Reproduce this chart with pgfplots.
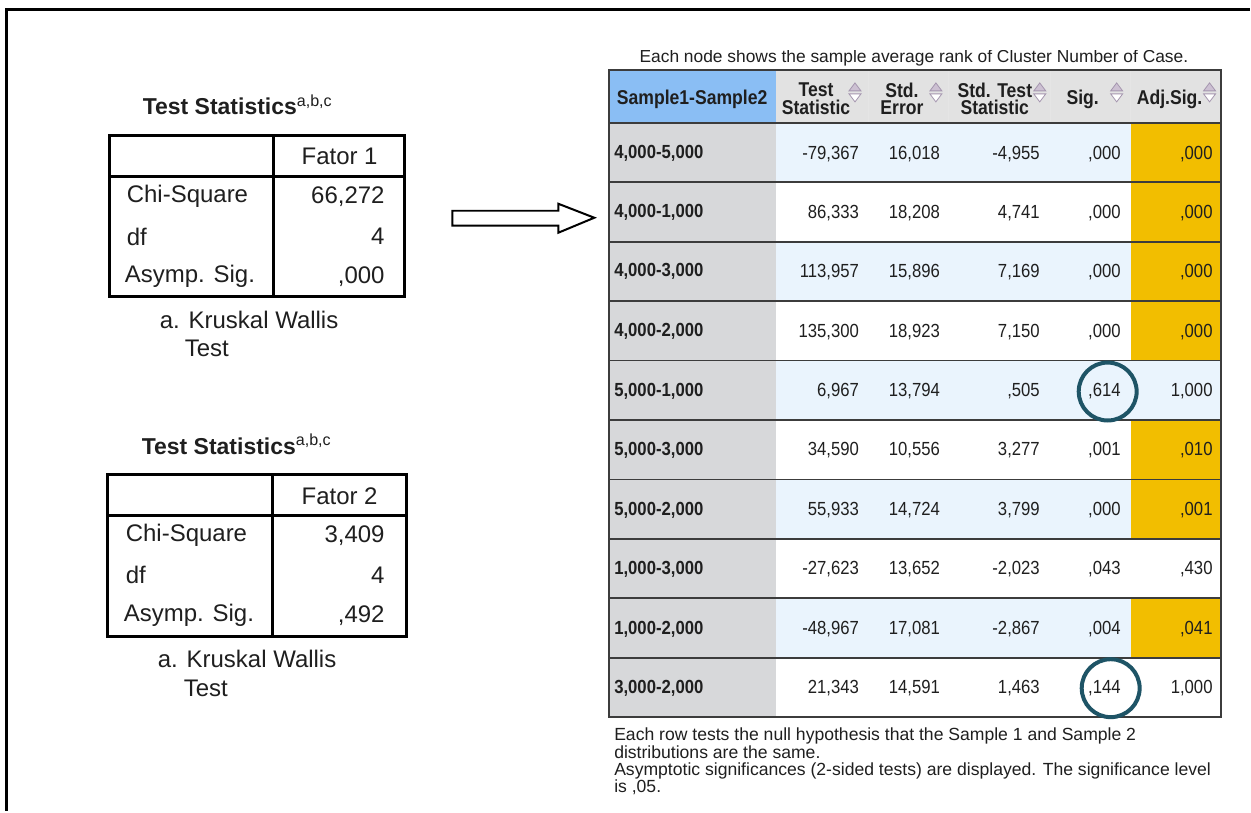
\documentclass[border=0pt]{standalone}
\usepackage{fontspec}
\setmainfont{Liberation Sans}
\newfontfamily\narrowfont[FakeStretch=0.88]{Liberation Sans}
\usepackage{pgfplots}
\pgfplotsset{compat=1.18}
\tikzset{every node/.append style={inner sep=0pt, outer sep=0pt, text=black!88}}

\definecolor{labgray}{RGB}{215,216,218}
\definecolor{headgray}{RGB}{226,226,226}
\definecolor{headblue}{RGB}{138,190,244}
\definecolor{rowblue}{RGB}{234,244,253}
\definecolor{adjyellow}{RGB}{242,190,0}
\definecolor{rule}{RGB}{60,60,60}
\definecolor{ring}{RGB}{30,84,102}
\definecolor{iconfill}{RGB}{204,192,210}
\definecolor{iconline}{RGB}{165,150,175}

% one row of the pairwise table: y centre, label, five values
\newcommand{\pairrow}[7]{%
  \node[anchor=west] at (axis cs:615,#1) {\fontsize{9.5}{11}\narrowfont\bfseries #2};
  \node[anchor=east] at (axis cs:860,#1) {\fontsize{9.5}{11}\narrowfont #3};
  \node[anchor=east] at (axis cs:941,#1) {\fontsize{9.5}{11}\narrowfont #4};
  \node[anchor=east] at (axis cs:1041,#1) {\fontsize{9.5}{11}\narrowfont #5};
  \node[anchor=east] at (axis cs:1122,#1) {\fontsize{9.5}{11}\narrowfont #6};
  \node[anchor=east] at (axis cs:1214,#1) {\fontsize{9.5}{11}\narrowfont #7};
}
% sort icon at x
\newcommand{\sorticon}[1]{%
  \filldraw[fill=iconfill, draw=iconline, line width=0.4pt]
    (axis cs:#1-6,91) -- (axis cs:#1+6,91) -- (axis cs:#1,83) -- cycle;
  \filldraw[fill=white, draw=iconline, line width=0.4pt]
    (axis cs:#1-6,94) -- (axis cs:#1+6,94) -- (axis cs:#1,102) -- cycle;
}

\begin{document}
\begin{tikzpicture}
\begin{axis}[
    width=625.5pt, height=406pt, scale only axis,
    xmin=0, xmax=1251, ymin=0, ymax=812,
    y dir=reverse, hide axis, clip=false,
]
% page and frame
\fill[white] (axis cs:0,0) rectangle (axis cs:1251,812);
\draw[black, line width=1.5pt] (axis cs:1251,9.5) -- (axis cs:7,9.5) -- (axis cs:7,812);

% ---------- left table 1 ----------
\node[anchor=west] at (axis cs:143,105)
  {\fontsize{11.5}{13}\selectfont\bfseries Test Statistics\textsuperscript{\mdseries a,b,c}};
\draw[black, line width=1.5pt] (axis cs:110,136) rectangle (axis cs:405,297);
\draw[black, line width=1.5pt] (axis cs:274,136) -- (axis cs:274,297);
\draw[black, line width=1.5pt] (axis cs:110,177) -- (axis cs:405,177);
\node at (axis cs:340,157) {\fontsize{12}{14}\selectfont Fator 1};
\node[anchor=west] at (axis cs:127,197) {\fontsize{12}{14}\selectfont Chi-Square};
\node[anchor=west] at (axis cs:127,237) {\fontsize{12}{14}\selectfont df};
\node[anchor=west] at (axis cs:125,277) {\fontsize{12}{14}\selectfont Asymp. Sig.};
\node[anchor=east] at (axis cs:385,197) {\fontsize{12}{14}\selectfont 66,272};
\node[anchor=east] at (axis cs:385,237) {\fontsize{12}{14}\selectfont 4};
\node[anchor=east] at (axis cs:385,277) {\fontsize{12}{14}\selectfont ,000};
\node[anchor=west] at (axis cs:160,320) {\fontsize{12}{14}\selectfont a. Kruskal Wallis};
\node[anchor=west] at (axis cs:185,349) {\fontsize{12}{14}\selectfont Test};

% ---------- left table 2 ----------
\node[anchor=west] at (axis cs:142,445)
  {\fontsize{11.5}{13}\selectfont\bfseries Test Statistics\textsuperscript{\mdseries a,b,c}};
\draw[black, line width=1.5pt] (axis cs:108,475) rectangle (axis cs:407,637);
\draw[black, line width=1.5pt] (axis cs:273,475) -- (axis cs:273,637);
\draw[black, line width=1.5pt] (axis cs:108,516) -- (axis cs:407,516);
\node at (axis cs:340,497) {\fontsize{12}{14}\selectfont Fator 2};
\node[anchor=west] at (axis cs:126,536) {\fontsize{12}{14}\selectfont Chi-Square};
\node[anchor=west] at (axis cs:126,576) {\fontsize{12}{14}\selectfont df};
\node[anchor=west] at (axis cs:124,616) {\fontsize{12}{14}\selectfont Asymp. Sig.};
\node[anchor=east] at (axis cs:385,536) {\fontsize{12}{14}\selectfont 3,409};
\node[anchor=east] at (axis cs:385,576) {\fontsize{12}{14}\selectfont 4};
\node[anchor=east] at (axis cs:385,616) {\fontsize{12}{14}\selectfont ,492};
\node[anchor=west] at (axis cs:158,660) {\fontsize{12}{14}\selectfont a. Kruskal Wallis};
\node[anchor=west] at (axis cs:184,689) {\fontsize{12}{14}\selectfont Test};

% ---------- arrow ----------
\draw[black, line width=1pt, fill=white]
  (axis cs:453,211) -- (axis cs:559,211) -- (axis cs:559,204) -- (axis cs:595,218)
  -- (axis cs:559,233) -- (axis cs:559,226) -- (axis cs:453,226) -- cycle;

% ---------- right table ----------
\node at (axis cs:915,58) {\fontsize{8.7}{10}\selectfont Each node shows the sample average rank of Cluster Number of Case.};
\fill[white] (axis cs:620,40) rectangle (axis cs:1210,50.5);

% header
\fill[headblue] (axis cs:610,70) rectangle (axis cs:777,123);
\fill[headgray] (axis cs:777,70) rectangle (axis cs:1222,123);
\draw[white!80!gray, line width=0.5pt] (axis cs:870,71) -- (axis cs:870,122);
\draw[white!80!gray, line width=0.5pt] (axis cs:950,71) -- (axis cs:950,122);
\draw[white!80!gray, line width=0.5pt] (axis cs:1052,71) -- (axis cs:1052,122);
\draw[white!80!gray, line width=0.5pt] (axis cs:1132,71) -- (axis cs:1132,122);

% body fills
\fill[labgray] (axis cs:610,123) rectangle (axis cs:777,718);
\fill[rowblue] (axis cs:777,123) rectangle (axis cs:1222,182.5);
\fill[rowblue] (axis cs:777,242) rectangle (axis cs:1222,301.5);
\fill[rowblue] (axis cs:777,361) rectangle (axis cs:1222,420.5);
\fill[rowblue] (axis cs:777,480) rectangle (axis cs:1222,539.5);
\fill[rowblue] (axis cs:777,599) rectangle (axis cs:1222,658.5);
\fill[adjyellow] (axis cs:1132,123) rectangle (axis cs:1222,361);
\fill[adjyellow] (axis cs:1132,420.5) rectangle (axis cs:1222,539.5);
\fill[adjyellow] (axis cs:1132,599) rectangle (axis cs:1222,658.5);

% rules
\draw[rule, line width=1.2pt] (axis cs:610,123) -- (axis cs:1222,123);
\draw[rule, line width=0.9pt] (axis cs:610,182.5) -- (axis cs:1222,182.5);
\draw[rule, line width=0.9pt] (axis cs:610,242) -- (axis cs:1222,242);
\draw[rule, line width=0.9pt] (axis cs:610,301.5) -- (axis cs:1222,301.5);
\draw[rule, line width=0.9pt] (axis cs:610,361) -- (axis cs:1222,361);
\draw[rule, line width=0.9pt] (axis cs:610,420.5) -- (axis cs:1222,420.5);
\draw[rule, line width=0.9pt] (axis cs:610,480) -- (axis cs:1222,480);
\draw[rule, line width=0.9pt] (axis cs:610,539.5) -- (axis cs:1222,539.5);
\draw[rule, line width=0.9pt] (axis cs:610,599) -- (axis cs:1222,599);
\draw[rule, line width=0.9pt] (axis cs:610,658.5) -- (axis cs:1222,658.5);
\draw[rule, line width=1pt] (axis cs:610,70) rectangle (axis cs:1222,718);

% header text
\node[font=\fontsize{10}{11}\narrowfont\bfseries] at (axis cs:693,99) {Sample1-Sample2};
\node[align=center, font=\fontsize{10}{8.8}\narrowfont\bfseries] at (axis cs:817,99) {Test\\Statistic};
\node[align=center, font=\fontsize{10}{8.8}\narrowfont\bfseries] at (axis cs:903,99) {Std.\\Error};
\node[align=center, font=\fontsize{10}{8.8}\narrowfont\bfseries] at (axis cs:996,99) {Std. Test\\Statistic};
\node[font=\fontsize{10}{11}\narrowfont\bfseries] at (axis cs:1084,99) {Sig.};
\node[font=\fontsize{10}{11}\narrowfont\bfseries] at (axis cs:1171,99) {Adj.Sig.};
\sorticon{856}
\sorticon{937}
\sorticon{1041}
\sorticon{1118}
\sorticon{1211}

% rows
\pairrow{154}{4,000-5,000}{-79,367}{16,018}{-4,955}{,000}{,000}
\pairrow{213}{4,000-1,000}{86,333}{18,208}{4,741}{,000}{,000}
\pairrow{272}{4,000-3,000}{113,957}{15,896}{7,169}{,000}{,000}
\pairrow{332}{4,000-2,000}{135,300}{18,923}{7,150}{,000}{,000}
\pairrow{392}{5,000-1,000}{6,967}{13,794}{,505}{,614}{1,000}
\pairrow{451}{5,000-3,000}{34,590}{10,556}{3,277}{,001}{,010}
\pairrow{511}{5,000-2,000}{55,933}{14,724}{3,799}{,000}{,001}
\pairrow{570}{1,000-3,000}{-27,623}{13,652}{-2,023}{,043}{,430}
\pairrow{630}{1,000-2,000}{-48,967}{17,081}{-2,867}{,004}{,041}
\pairrow{689}{3,000-2,000}{21,343}{14,591}{1,463}{,144}{1,000}

% highlight rings
\draw[ring, line width=2pt] (axis cs:1109,392) ellipse [x radius=14.5pt, y radius=14.5pt];
\draw[ring, line width=2pt] (axis cs:1112,689) ellipse [x radius=14.5pt, y radius=14.5pt];

% notes
\node[anchor=west] at (axis cs:615,737) {\fontsize{8.8}{10}\selectfont Each row tests the null hypothesis that the Sample 1 and Sample 2};
\node[anchor=west] at (axis cs:615,753) {\fontsize{8.8}{10}\selectfont distributions are the same.};
\node[anchor=west] at (axis cs:615,772) {\fontsize{8.8}{10}\selectfont Asymptotic significances (2-sided tests) are displayed. The significance level};
\node[anchor=west] at (axis cs:615,788) {\fontsize{8.8}{10}\selectfont is ,05.};
\end{axis}
\end{tikzpicture}
\end{document}
